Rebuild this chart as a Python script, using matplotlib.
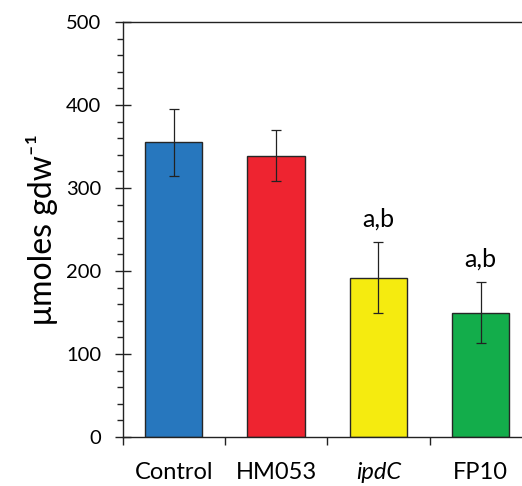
import matplotlib
matplotlib.use("Agg")
import matplotlib.pyplot as plt
from matplotlib.ticker import MultipleLocator, FixedLocator

plt.rcParams['font.family'] = ['Lato', 'DejaVu Sans']

strains = ['Control', 'HM053', 'ipdC', 'FP10']
means = [355, 339, 192, 150]
errs = [40, 31, 43, 37]
marks = ['', '', 'a,b', 'a,b']
colors = ['#2777be', '#ee2430', '#f5eb0f', '#13ad4b']

fig = plt.figure(figsize=(5.22, 4.86), dpi=100)
ax = fig.add_axes([0.235, 0.1008, 0.765, 0.8539])

x = list(range(len(strains)))
ax.bar(x, means, width=0.56, color=colors, edgecolor='#262626', linewidth=1.0, zorder=2)
ax.errorbar(x, means, yerr=errs, fmt='none', ecolor='#222222', elinewidth=0.9,
            capsize=3.5, capthick=0.9, zorder=3)

for xi, m, e, t in zip(x, means, errs, marks):
    if t:
        ax.text(xi, m + e + 18, t, ha='center', va='baseline', fontsize=18)

ax.set_xlim(-0.5, 3.403)
ax.set_ylim(0, 500)

# x: ticks at the category boundaries, labels at the centres
ax.xaxis.set_major_locator(FixedLocator([-0.5, 0.5, 1.5, 2.5, 3.5]))
ax.xaxis.set_minor_locator(FixedLocator(x))
ax.set_xticklabels([])
ax.set_xticklabels(strains, minor=True, fontsize=17)
ax.tick_params(axis='x', which='major', direction='out', length=6, width=1.0, color='#222222')
ax.tick_params(axis='x', which='minor', length=0, pad=18)
ax.get_xticklabels(minor=True)[2].set_fontstyle('italic')

ax.yaxis.set_major_locator(MultipleLocator(100))
ax.yaxis.set_minor_locator(MultipleLocator(20))
ax.tick_params(axis='y', which='major', direction='inout', length=11, width=1.0,
               color='#222222', labelsize=14.5, pad=10)
ax.tick_params(axis='y', which='minor', direction='out', length=4.5, width=1.0, color='#222222')

for s in ['left', 'bottom', 'top']:
    ax.spines[s].set_color('#222222')
    ax.spines[s].set_linewidth(1.0)
ax.spines['right'].set_visible(False)

ax.set_ylabel('\u03bcmoles gdw\u207b\u00b9', fontsize=23, labelpad=6)

fig.savefig('out.png', dpi=100)
